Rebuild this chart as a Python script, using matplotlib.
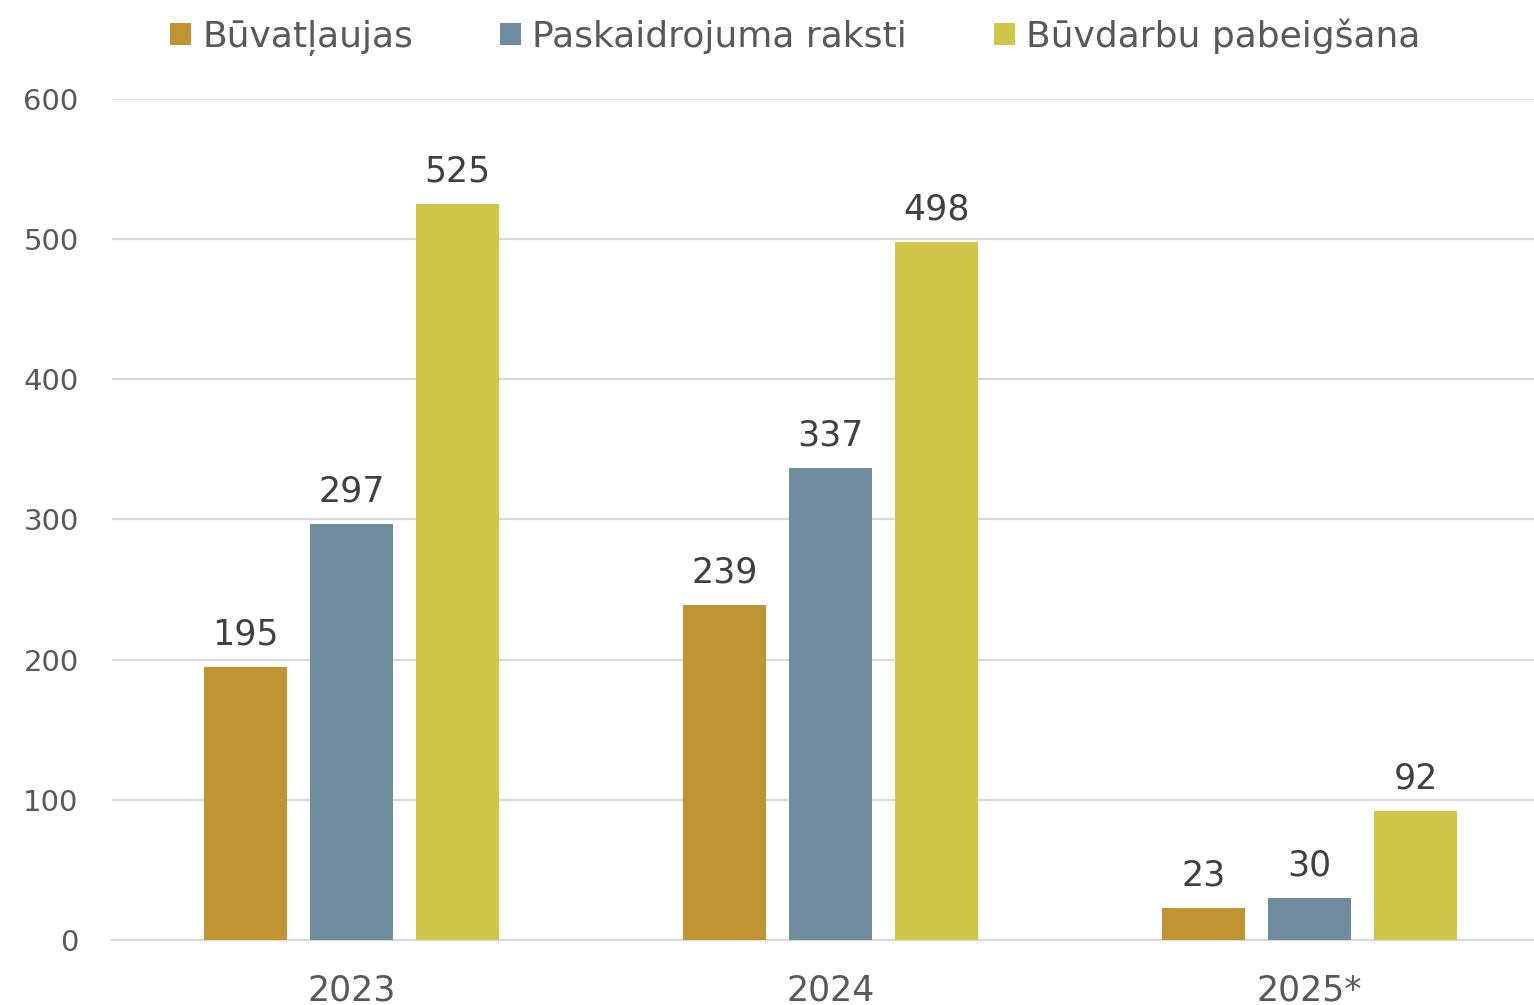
import matplotlib
matplotlib.use("Agg")
import matplotlib.pyplot as plt
import numpy as np
from matplotlib.patches import Patch

categories = ["2023", "2024", "2025*"]
series_names = ["Būvatļaujas", "Paskaidrojuma raksti", "Būvdarbu pabeigšana"]
buvatlaujas = [195, 239, 23]
paskaidrojuma = [297, 337, 30]
buvdarbu = [525, 498, 92]
y_ticks = [0, 100, 200, 300, 400, 500, 600]

colors = ["#C09333", "#6E8C9E", "#D0C64A"]

plt.rcParams['font.family'] = ['DejaVu Sans']

W, H = 1534, 1005
fig = plt.figure(figsize=(W / 100, H / 100), dpi=100)
ax_left = 112 / W
ax_w = 1437 / W
ax_bottom = (H - 940) / H
ax_h = (940 - 99) / H
ax = fig.add_axes([ax_left, ax_bottom, ax_w, ax_h])

x = np.arange(len(categories))
bar_w = 83 / 479
pitch = 106 / 479
series = [buvatlaujas, paskaidrojuma, buvdarbu]
for i, (vals, col, name) in enumerate(zip(series, colors, series_names)):
    xs = x + (i - 1) * pitch
    ax.bar(xs, vals, width=bar_w, color=col, label=name, zorder=3)
    for xi, v in zip(xs, vals):
        ax.annotate(str(v), (xi, v), xytext=(0, 11), textcoords="offset points",
                    ha="center", va="bottom", fontsize=25, color="#404040")

ax.set_xlim(-0.5, 2.5)
ax.set_ylim(0, 600)
ax.set_yticks(y_ticks)
ax.yaxis.grid(True, color="#D9D9D9", linewidth=1.6, zorder=0)
ax.set_axisbelow(True)
for s in ["top", "right", "left"]:
    ax.spines[s].set_visible(False)
ax.spines["bottom"].set_color("#D9D9D9")
ax.spines["bottom"].set_linewidth(1.6)
ax.tick_params(axis="y", length=0, pad=24, labelsize=21, labelcolor="#595959")
ax.tick_params(axis="x", length=0, pad=24, labelsize=25, labelcolor="#595959")
ax.set_xticks(x)
ax.set_xticklabels(categories)

handles = [Patch(facecolor=c, edgecolor="none") for c in colors]
fig.legend(handles, series_names, loc="center", bbox_to_anchor=(795 / W, 1 - 37 / H),
           ncol=3, frameon=False, fontsize=26, labelcolor="#595959",
           handlelength=0.6, handleheight=0.6, handletextpad=0.3,
           columnspacing=2.4)

fig.savefig("out.png", dpi=100)
